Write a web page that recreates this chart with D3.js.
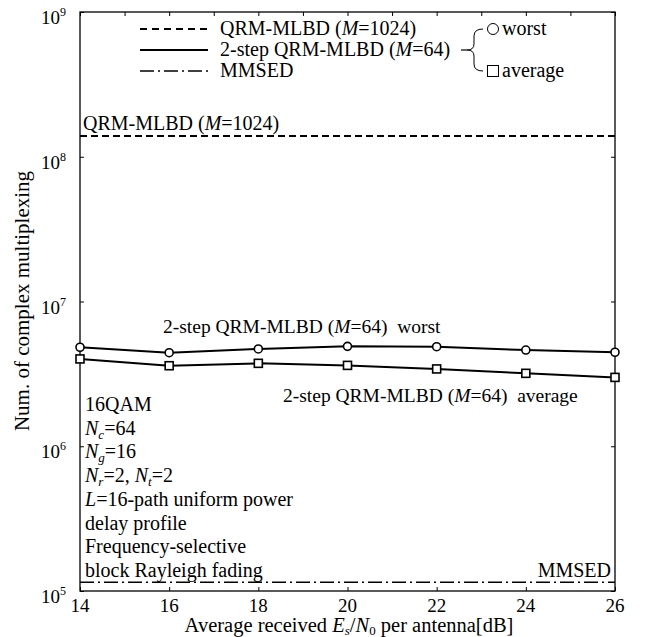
<!DOCTYPE html>
<html><head><meta charset="utf-8">
<script src="https://cdn.jsdelivr.net/npm/d3@7"></script>
<style>body{margin:0;background:#fff}svg{display:block}text{font-family:"Liberation Serif","Times New Roman",serif;fill:#000}</style>
</head><body><svg id="c" width="645" height="637"></svg>
<script>
const snr = [14, 16, 18, 20, 22, 24, 26];
const worst = [4.83e6, 4.43e6, 4.70e6, 4.90e6, 4.87e6, 4.62e6, 4.46e6];
const average = [4.01e6, 3.60e6, 3.74e6, 3.62e6, 3.42e6, 3.19e6, 2.99e6];
const qrm1024 = 1.39e8;
const mmsed = 1.15e5;
const xTicks = [14, 16, 18, 20, 22, 24, 26];
const yTicks = [1e5, 1e6, 1e7, 1e8, 1e9];
const infoLines = ["16QAM", "Nc=64", "Ng=16", "Nr=2, Nt=2", "L=16-path uniform power", "delay profile", "Frequency-selective", "block Rayleigh fading"];

const svg = d3.select("#c");
const L = 80, R = 615, T = 12, B = 591;
const x = d3.scaleLinear().domain([14, 26]).range([L, R]);
const y = d3.scaleLog().domain([1e5, 1e9]).range([B, T]);
const FS = 20;

// axes with inward ticks
const gB = svg.append("g").attr("transform", `translate(0,${B})`)
  .call(d3.axisBottom(x).tickValues(xTicks).tickSizeInner(-4).tickSizeOuter(0).tickFormat(""));
const gT = svg.append("g").attr("transform", `translate(0,${T})`)
  .call(d3.axisTop(x).tickValues(d3.range(14, 27, 1)).tickSizeInner(-4).tickSizeOuter(0).tickFormat(""));
const gL = svg.append("g").attr("transform", `translate(${L},0)`)
  .call(d3.axisLeft(y).tickValues(yTicks).tickSizeInner(-4).tickSizeOuter(0).tickFormat(""));
const gR = svg.append("g").attr("transform", `translate(${R},0)`)
  .call(d3.axisRight(y).tickValues(yTicks).tickSizeInner(-4).tickSizeOuter(0).tickFormat(""));
[gB, gT, gL, gR].forEach(g => { g.select(".domain").remove(); g.selectAll("line").attr("stroke", "#000").attr("stroke-width", 1); });
svg.append("rect").attr("x", L).attr("y", T).attr("width", R - L).attr("height", B - T)
  .attr("fill", "none").attr("stroke", "#000").attr("stroke-width", 1.3);

// tick labels
xTicks.forEach(v => svg.append("text").attr("x", x(v)).attr("y", B + 21).attr("text-anchor", "middle")
  .attr("font-size", 19).text(v));
yTicks.forEach(v => {
  const t = svg.append("text").attr("x", 66).attr("y", y(v) + 12).attr("text-anchor", "end").attr("font-size", 19);
  t.append("tspan").text("10");
  t.append("tspan").attr("font-size", 12).attr("dy", -8).text(Math.round(Math.log10(v)));
});

// axis titles
const xt = svg.append("text").attr("x", 349).attr("y", 632).attr("text-anchor", "middle").attr("font-size", 20.5);
xt.append("tspan").text("Average received ");
xt.append("tspan").attr("font-style", "italic").text("E");
xt.append("tspan").attr("font-style", "italic").attr("font-size", 13).attr("dy", 3).text("s");
xt.append("tspan").attr("dy", -3).text("/");
xt.append("tspan").attr("font-style", "italic").text("N");
xt.append("tspan").attr("font-size", 13).attr("dy", 3).text("0");
xt.append("tspan").attr("dy", -3).text(" per antenna[dB]");
svg.append("text").attr("transform", "translate(29,301) rotate(-90)").attr("text-anchor", "middle")
  .attr("font-size", 21).text("Num. of complex multiplexing");

// reference lines
svg.append("line").attr("x1", L).attr("x2", R).attr("y1", y(qrm1024)).attr("y2", y(qrm1024))
  .attr("stroke", "#000").attr("stroke-width", 2).attr("stroke-dasharray", "7,4");
svg.append("line").attr("x1", L).attr("x2", R).attr("y1", y(mmsed)).attr("y2", y(mmsed))
  .attr("stroke", "#000").attr("stroke-width", 1.6).attr("stroke-dasharray", "14,4,2,4");

// series
const line = d3.line().x(d => x(d[0])).y(d => y(d[1]));
[worst, average].forEach((s, i) => {
  const pts = snr.map((v, j) => [v, s[j]]);
  svg.append("path").datum(pts).attr("d", line).attr("fill", "none").attr("stroke", "#000").attr("stroke-width", 2);
  if (i === 0) {
    svg.selectAll(null).data(pts).enter().append("circle").attr("cx", d => x(d[0])).attr("cy", d => y(d[1]))
      .attr("r", 4).attr("fill", "#fff").attr("stroke", "#000").attr("stroke-width", 1.6);
  } else {
    svg.selectAll(null).data(pts).enter().append("rect").attr("x", d => x(d[0]) - 4).attr("y", d => y(d[1]) - 4)
      .attr("width", 8).attr("height", 8).attr("fill", "#fff").attr("stroke", "#000").attr("stroke-width", 1.6);
  }
});

// helper for "(M=..)" text
function mtext(sel, pre, val, post) {
  sel.append("tspan").text(pre + "(");
  sel.append("tspan").attr("font-style", "italic").text("M");
  sel.append("tspan").text("=" + val + ")" + (post || ""));
}

// annotations
mtext(svg.append("text").attr("x", 83).attr("y", 130).attr("font-size", FS), "QRM-MLBD ", "1024");
mtext(svg.append("text").attr("x", 163).attr("y", 333).attr("font-size", 19.5), "2-step QRM-MLBD ", "64", "\u00a0 worst");
mtext(svg.append("text").attr("x", 283).attr("y", 402).attr("font-size", 19.5), "2-step QRM-MLBD ", "64", "\u00a0 average");
svg.append("text").attr("x", 611).attr("y", 577).attr("text-anchor", "end").attr("font-size", FS).text("MMSED");

// info block
infoLines.forEach((s, i) => {
  const t = svg.append("text").attr("x", 85).attr("y", 411 + i * 23.7).attr("font-size", FS);
  if (i === 1 || i === 2) {
    t.append("tspan").attr("font-style", "italic").text("N");
    t.append("tspan").attr("font-style", "italic").attr("font-size", 13).attr("dy", 4).text(i === 1 ? "c" : "g");
    t.append("tspan").attr("dy", -4).text(s.slice(2));
  } else if (i === 3) {
    t.append("tspan").attr("font-style", "italic").text("N");
    t.append("tspan").attr("font-style", "italic").attr("font-size", 13).attr("dy", 4).text("r");
    t.append("tspan").attr("dy", -4).text("=2, ");
    t.append("tspan").attr("font-style", "italic").text("N");
    t.append("tspan").attr("font-style", "italic").attr("font-size", 13).attr("dy", 4).text("t");
    t.append("tspan").attr("dy", -4).text("=2");
  } else if (i === 4) {
    t.append("tspan").attr("font-style", "italic").text("L");
    t.append("tspan").text(s.slice(1));
  } else t.text(s);
});

// legend
const lg = [{dash: "7,5", lab: ["QRM-MLBD ", "1024"]}, {dash: null, lab: ["2-step QRM-MLBD ", "64"]}, {dash: "14,4,2,4", lab: null}];
lg.forEach((d, i) => {
  const yy = 29 + i * 21;
  const ln = svg.append("line").attr("x1", 140).attr("x2", 208).attr("y1", yy).attr("y2", yy)
    .attr("stroke", "#000").attr("stroke-width", i === 2 ? 1.6 : 2);
  if (d.dash) ln.attr("stroke-dasharray", d.dash);
  const t = svg.append("text").attr("x", 220).attr("y", yy + 6).attr("font-size", FS);
  if (d.lab) mtext(t, d.lab[0], d.lab[1]); else t.text("MMSED");
});
svg.append("path").attr("d", "M483,29 Q474,29 474,36 L474,44 Q474,50 467,50 Q474,50 474,56 L474,64 Q474,71 483,71")
  .attr("fill", "none").attr("stroke", "#000").attr("stroke-width", 1);
svg.append("line").attr("x1", 461).attr("x2", 467).attr("y1", 50).attr("y2", 50).attr("stroke", "#000").attr("stroke-width", 1.2);
svg.append("circle").attr("cx", 493).attr("cy", 29).attr("r", 5.5).attr("fill", "none").attr("stroke", "#000").attr("stroke-width", 1);
svg.append("text").attr("x", 502).attr("y", 35).attr("font-size", FS).text("worst");
svg.append("rect").attr("x", 487.5).attr("y", 65.5).attr("width", 11).attr("height", 11).attr("fill", "none").attr("stroke", "#000").attr("stroke-width", 1);
svg.append("text").attr("x", 502).attr("y", 77).attr("font-size", FS).text("average");
</script></body></html>
